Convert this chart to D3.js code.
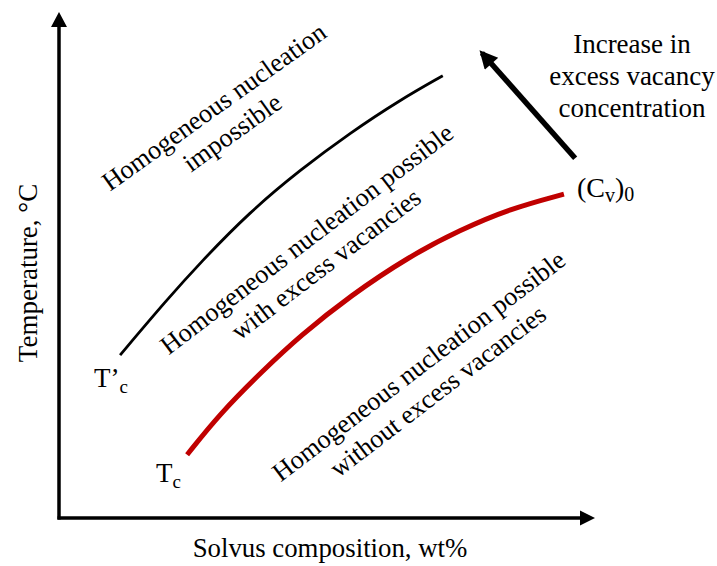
<!DOCTYPE html>
<html>
<head>
<meta charset="utf-8">
<script src="https://cdn.jsdelivr.net/npm/d3@7"></script>
<style>
  body { margin: 0; background: #fff; }
</style>
</head>
<body>
<div id="chart"></div>
<script>
// Schematic: solvus composition vs temperature
var svgWidth = 717;
var svgHeight = 566;
var serif = "'Liberation Serif', 'Times New Roman', 'DejaVu Serif', serif";

// curve points, in arbitrary units (0-100 on both axes)
var excessCurveX = [11.4, 20.1, 26.3, 35.6, 45.0, 54.3, 63.6, 71.6];
var excessCurveY = [32.2, 43.1, 50.4, 60.5, 68.8, 76.1, 82.6, 87.4];
var normalCurveX = [23.9, 30.0, 38.1, 45.0, 54.3, 65.5, 74.8, 84.1, 94.2];
var normalCurveY = [12.5, 20.6, 29.2, 36.0, 43.9, 51.8, 56.9, 61.1, 64.0];
// direction of increasing vacancy concentration
var arrowX = [96.3, 78.9];
var arrowY = [71.1, 91.9];

var svg = d3.select("#chart")
  .append("svg")
  .attr("width", svgWidth)
  .attr("height", svgHeight)
  .attr("font-family", serif);

var xScale = d3.scaleLinear().domain([0, 100]).range([59, 595]);
var yScale = d3.scaleLinear().domain([0, 100]).range([518, 12]);

// arrow heads
var defs = svg.append("defs");
defs.append("marker")
  .attr("id", "bigArrow")
  .attr("viewBox", "0 0 10 10")
  .attr("refX", 8)
  .attr("refY", 5)
  .attr("markerUnits", "userSpaceOnUse")
  .attr("markerWidth", 20)
  .attr("markerHeight", 18)
  .attr("orient", "auto")
  .append("path")
  .attr("d", "M0,0 L10,5 L0,10 Z")
  .attr("fill", "#000");

// axes
var x0 = xScale.range()[0], x1 = xScale.range()[1];
var y0 = yScale.range()[0], y1 = yScale.range()[1];

svg.append("line")
  .attr("x1", x0).attr("y1", y0 + 1.5)
  .attr("x2", x0).attr("y2", y1 + 12)
  .attr("stroke", "#000")
  .attr("stroke-width", 3.5);
svg.append("path")
  .attr("d", `M${x0},${y1} L${x0 - 8},${y1 + 15} L${x0 + 8},${y1 + 15} Z`)
  .attr("fill", "#000");

svg.append("line")
  .attr("x1", x0 - 1.5).attr("y1", y0)
  .attr("x2", x1 - 12).attr("y2", y0)
  .attr("stroke", "#000")
  .attr("stroke-width", 3.5);
svg.append("path")
  .attr("d", `M${x1},${y0} L${x1 - 15},${y0 - 7.5} L${x1 - 15},${y0 + 7.5} Z`)
  .attr("fill", "#000");

// curves
var line = d3.line()
  .x(d => xScale(d[0]))
  .y(d => yScale(d[1]))
  .curve(d3.curveBasis);

svg.append("path")
  .datum(d3.zip(excessCurveX, excessCurveY))
  .attr("d", line)
  .attr("fill", "none")
  .attr("stroke", "#000")
  .attr("stroke-width", 2.8);

svg.append("path")
  .datum(d3.zip(normalCurveX, normalCurveY))
  .attr("d", line)
  .attr("fill", "none")
  .attr("stroke", "#c00000")
  .attr("stroke-width", 5);

svg.append("line")
  .attr("x1", xScale(arrowX[0])).attr("y1", yScale(arrowY[0]))
  .attr("x2", xScale(arrowX[1])).attr("y2", yScale(arrowY[1]))
  .attr("stroke", "#000")
  .attr("stroke-width", 5.5)
  .attr("marker-end", "url(#bigArrow)");

// axis titles
svg.append("text")
  .attr("x", 330).attr("y", 557)
  .attr("text-anchor", "middle")
  .attr("font-size", "26.8px")
  .text("Solvus composition, wt%");

svg.append("text")
  .attr("transform", "translate(37,273) rotate(-90)")
  .attr("text-anchor", "middle")
  .attr("font-size", "27px")
  .text("Temperature, °C");

// region labels (two lines each, rotated)
function regionLabel(cx, cy, angle, lines) {
  var g = svg.append("g")
    .attr("transform", `translate(${cx},${cy}) rotate(${angle})`);
  lines.forEach(function(t, i) {
    g.append("text")
      .attr("x", 0)
      .attr("y", i * 31.5)
      .attr("text-anchor", "middle")
      .attr("font-size", "26.3px")
      .text(t);
  });
}
regionLabel(219, 114, -35.5, ["Homogeneous nucleation", "impossible"]);
regionLabel(312, 246, -37.4, ["Homogeneous nucleation possible", "with excess vacancies"]);
regionLabel(424, 373, -37.4, ["Homogeneous nucleation possible", "without excess  vacancies"]);

// note next to the arrow
var note = ["Increase in", "excess vacancy", "concentration"];
note.forEach(function(t, i) {
  svg.append("text")
    .attr("x", 632)
    .attr("y", 53 + i * 32)
    .attr("text-anchor", "middle")
    .attr("font-size", "27px")
    .text(t);
});

// curve end labels
var tc1 = svg.append("text").attr("x", 94).attr("y", 387).attr("font-size", "27px");
tc1.append("tspan").text("T’");
tc1.append("tspan").attr("font-size", "19px").attr("dy", 6).text("c");

var tc2 = svg.append("text").attr("x", 156).attr("y", 482).attr("font-size", "27px");
tc2.append("tspan").text("T");
tc2.append("tspan").attr("font-size", "19px").attr("dy", 6).text("c");

var cv = svg.append("text").attr("x", 577).attr("y", 197).attr("font-size", "28px");
cv.append("tspan").text("(C");
cv.append("tspan").attr("font-size", "20px").attr("dy", 5).text("v");
cv.append("tspan").attr("dy", -5).text(")");
cv.append("tspan").attr("font-size", "20px").attr("dy", 4).text("0");
</script>
</body>
</html>
